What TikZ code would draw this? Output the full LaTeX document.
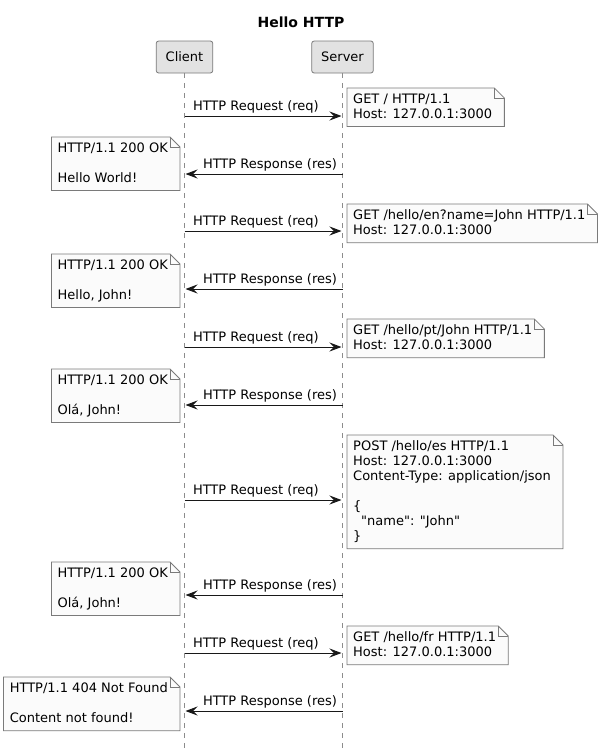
\documentclass[tikz,border=0pt]{standalone}
\usepackage{fontspec}
\setmainfont{DejaVu Sans}[Ligatures=TeXOff]
\usetikzlibrary{arrows.meta, positioning, calc, backgrounds}
\definecolor{partfill}{HTML}{E2E2E2}
\definecolor{partline}{HTML}{7A7A7A}
\definecolor{notefill}{HTML}{FBFBFB}
\definecolor{noteline}{HTML}{7A7A7A}
\definecolor{lifegray}{HTML}{8C8C8C}
\definecolor{msgcolor}{HTML}{181818}

% note outline with folded corner, drawn behind the text
\newcommand{\foldnote}[1]{%
  \begin{scope}[on background layer]
    \draw[notebox] (#1.north west) -- ($(#1.north east)+(-4pt,0pt)$)
      -- ($(#1.north east)+(6pt,-10pt)$) -- ($(#1.south east)+(6pt,0pt)$)
      -- (#1.south west) -- cycle;
    \draw[notebox, fill=none] ($(#1.north east)+(-4pt,0pt)$)
      -- ($(#1.north east)+(-4pt,-10pt)$) -- ($(#1.north east)+(6pt,-10pt)$);
  \end{scope}}

\begin{document}
\begin{tikzpicture}[
    x=1pt, y=-1pt,
    txt/.style={font=\fontsize{13}{15}\selectfont},
    participant/.style={txt, draw=partline, fill=partfill, rounded corners=2.5pt,
                        minimum height=32pt, inner xsep=9.5pt, inner ysep=0pt, line width=0.8pt},
    lifeline/.style={draw=lifegray, dash pattern=on 5pt off 5pt, line width=0.8pt},
    msg/.style={draw=msgcolor, line width=1pt, shorten >=1pt,
                -{Stealth[length=12pt, width=9pt, inset=4.5pt]}},
    msglabel/.style={txt, inner sep=0pt, anchor=base west, yshift=6pt},
    note/.style={txt, align=left, inner xsep=6pt, inner ysep=5.25pt,
                 execute at begin node=\rule{0pt}{12.5pt},
                 execute at end node=\rule[-3pt]{0pt}{3pt}},
    notebox/.style={draw=noteline, fill=notefill, line width=0.8pt},
]
\useasboundingbox (0,0) rectangle (601,753);

% Title
\node[font=\fontsize{14}{16}\selectfont\bfseries] (title) at (301,22) {Hello HTTP};

% Participants and lifelines
\node[participant] (client) at (184.5,57) {Client};
\node[participant] (server) at (342.5,57) {Server};
\coordinate (clientend) at (184.5,753);
\coordinate (serverend) at (342.5,753);
\draw[lifeline] (client) -- (clientend);
\draw[lifeline] (server) -- (serverend);

% Requests
\foreach \i/\y in {1/116, 3/231, 5/347, 7/500, 9/653} {
  \coordinate (c\i) at (184.5,\y);
  \coordinate (s\i) at (342.5,\y);
  \draw[msg] (c\i) -- (s\i) node[msglabel, pos=0, xshift=8pt] (lbl\i) {HTTP Request (req)};
}

% Responses
\foreach \i/\y in {2/174, 4/289, 6/405, 8/595, 10/711} {
  \coordinate (c\i) at (184.5,\y);
  \coordinate (s\i) at (342.5,\y);
  \draw[msg] (s\i) -- (c\i) node[msglabel, pos=1, xshift=18pt] (lbl\i) {HTTP Response (res)};
}

% Request notes
\node[note, anchor=north west] (req1) at (347,88) {GET / HTTP/1.1\\Host: 127.0.0.1:3000};
\foldnote{req1}
\node[note, anchor=north west] (req3) at (347,204) {GET /hello/en?name=John HTTP/1.1\\Host: 127.0.0.1:3000};
\foldnote{req3}
\node[note, anchor=north west] (req5) at (347,319) {GET /hello/pt/John HTTP/1.1\\Host: 127.0.0.1:3000};
\foldnote{req5}
\node[note, anchor=north west] (req7) at (347,435) {POST /hello/es HTTP/1.1\\Host: 127.0.0.1:3000\\
  Content-Type: application/json\\[15pt]\{\\\hspace*{8pt}"name": "John"\\\}};
\foldnote{req7}
\node[note, anchor=north west] (req9) at (347,626) {GET /hello/fr HTTP/1.1\\Host: 127.0.0.1:3000};
\foldnote{req9}

% Response notes
\node[note, anchor=north east] (res2) at (174,137) {HTTP/1.1 200 OK\\[15pt]Hello World!};
\foldnote{res2}
\node[note, anchor=north east] (res4) at (174,254) {HTTP/1.1 200 OK\\[15pt]Hello, John!};
\foldnote{res4}
\node[note, anchor=north east] (res6) at (174,369) {HTTP/1.1 200 OK\\[15pt]Olá, John!};
\foldnote{res6}
\node[note, anchor=north east] (res8) at (174,562) {HTTP/1.1 200 OK\\[15pt]Olá, John!};
\foldnote{res8}
\node[note, anchor=north east] (res10) at (174,677) {HTTP/1.1 404 Not Found\\[15pt]Content not found!};
\foldnote{res10}

\end{tikzpicture}
\end{document}
